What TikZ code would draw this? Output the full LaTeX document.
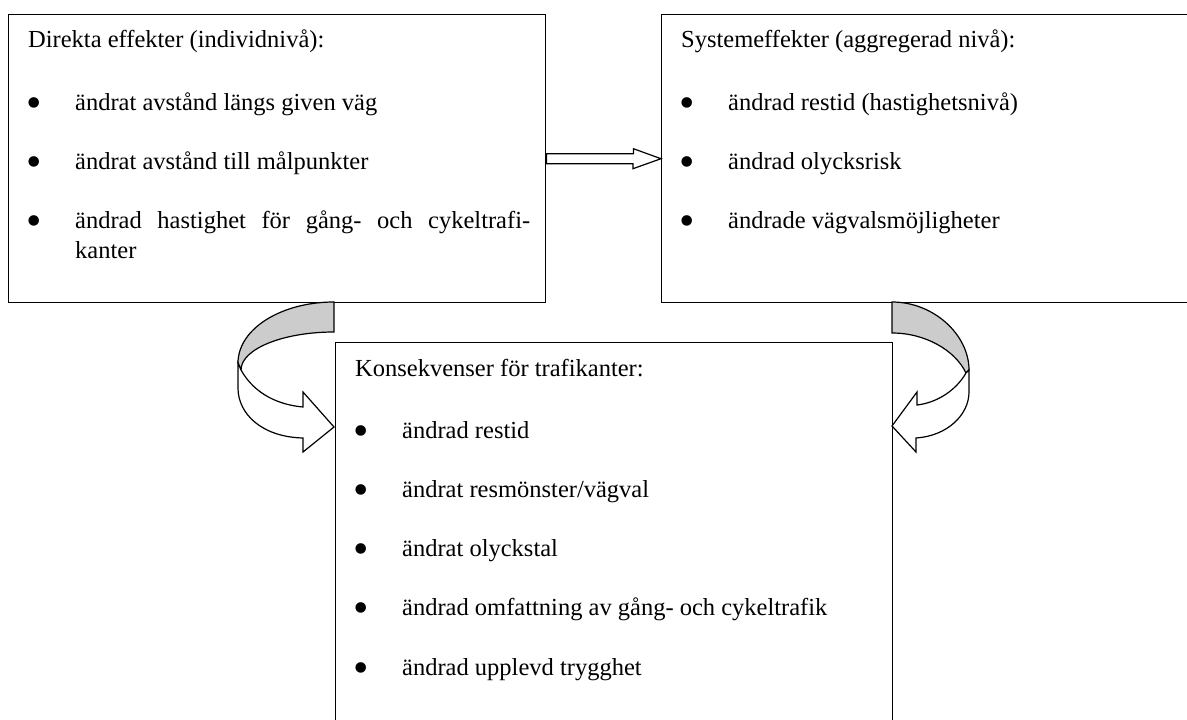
\documentclass[tikz,border=0pt]{standalone}
\usepackage{fontspec}
\setmainfont{Liberation Serif}
\usetikzlibrary{calc}
\newcommand{\textstorlek}{\fontsize{24.5}{30}\selectfont}
\newcommand{\prickstorlek}{\fontsize{44}{44}\selectfont}

\begin{document}
\begin{tikzpicture}[
    x=1pt, y=-1pt,
    ruta/.style={draw, line width=1.4pt, inner sep=0pt, anchor=north west},
    rubrik/.style={anchor=base west, inner sep=0pt, font=\textstorlek},
    punkt/.style={anchor=base west, inner sep=0pt, font=\textstorlek},
    prick/.style={anchor=base, inner sep=0pt, font=\prickstorlek, yshift=-7.3pt},
    pilkropp/.style={draw, fill=white, line width=1.2pt, line join=miter},
    pilbak/.style={draw, fill=gray!40, line width=1.2pt},
]
    \useasboundingbox (0,0) rectangle (1187,720);
    \clip (0,0) rectangle (1187,720);

    % boxes
    \node[ruta, minimum width=537pt, minimum height=288pt] (direkt) at (8,14) {};
    \node[ruta, minimum width=560pt, minimum height=288pt] (system) at (661,14) {};
    \node[ruta, minimum width=557pt, minimum height=420pt] (konsekv) at (335,342) {};

    % Direkta effekter
    \node[rubrik] (direktrub) at (28,47.7) {Direkta effekter (individnivå):};
    \node[prick] (da1) at (34.5,110) {•}; \node[punkt] (dt1) at (75,110) {ändrat avstånd längs given väg};
    \node[prick] (da2) at (34.5,169) {•}; \node[punkt] (dt2) at (75,169) {ändrat avstånd till målpunkter};
    \node[prick] (da3) at (34.5,228) {•};
    \node[punkt] (dt3) at (75,228) {\makebox[455pt][s]{ändrad hastighet för gång- och cykeltrafi-}};
    \node[punkt] (dt3b) at (75,258) {kanter};

    % Systemeffekter
    \node[rubrik] (systemrub) at (681,47.7) {Systemeffekter (aggregerad nivå):};
    \node[prick] (sa1) at (687,110) {•}; \node[punkt] (st1) at (728,110) {ändrad restid (hastighetsnivå)};
    \node[prick] (sa2) at (687,169) {•}; \node[punkt] (st2) at (728,169) {ändrad olycksrisk};
    \node[prick] (sa3) at (687,228) {•}; \node[punkt] (st3) at (728,228) {ändrade vägvalsmöjligheter};

    % Konsekvenser
    \node[rubrik] (konsrub) at (355,376) {Konsekvenser för trafikanter:};
    \node[prick] (ka1) at (361.5,438) {•}; \node[punkt] (kt1) at (402,438) {ändrad restid};
    \node[prick] (ka2) at (361.5,497) {•}; \node[punkt] (kt2) at (402,497) {ändrat resmönster/vägval};
    \node[prick] (ka3) at (361.5,556) {•}; \node[punkt] (kt3) at (402,556) {ändrat olyckstal};
    \node[prick] (ka4) at (361.5,615) {•}; \node[punkt] (kt4) at (402,615) {ändrad omfattning av gång- och cykeltrafik};
    \node[prick] (ka5) at (361.5,675) {•}; \node[punkt] (kt5) at (402,675) {ändrad upplevd trygghet};

    % block arrow between the upper boxes
    \draw[pilkropp] ($(direkt.east)+(0,-5)$) -- ++(87,0) -- ++(0,-5) -- (system.west)
        -- ++(-28,10) -- ++(0,-5) -- ++(-59,0) -- ($(direkt.east)+(0,5)$) -- cycle;

    % curved arrow, left
    \draw[pilbak] (334,302) .. controls (281,302) and (238,329) .. (238,363) -- (241,370)
        .. controls (241,349) and (283,332) .. (334,332) -- cycle;
    \draw[pilkropp] (238,363) -- (241,370) .. controls (255,395) and (280,405) .. (303,407)
        -- (303,392) -- (334,427) -- (303,452) -- (303,438)
        .. controls (262,437) and (238,414) .. (238,388) -- cycle;

    % curved arrow, right
    \draw[pilbak] (892,302) .. controls (934,302) and (969,335) .. (969,370) -- (966,373)
        .. controls (955,350) and (925,333) .. (892,333) -- cycle;
    \draw[pilkropp] (969,370) -- (966,373) .. controls (955,392) and (935,403) .. (917,405)
        -- (917,392) -- (892,426) -- (916,452) -- (916,438)
        .. controls (947,436) and (969,415) .. (969,392) -- cycle;
\end{tikzpicture}
\end{document}
